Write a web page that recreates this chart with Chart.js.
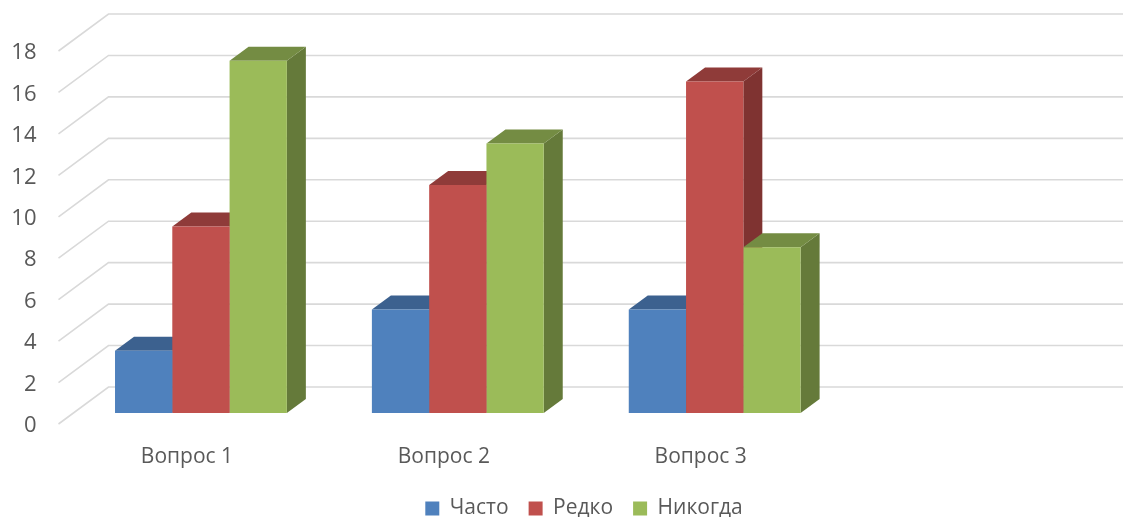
<!DOCTYPE html>
<html><head><meta charset="utf-8">
<style>html,body{margin:0;padding:0;background:#fff}#w{width:1123px;height:517px}</style>
<script src="https://cdn.jsdelivr.net/npm/chart.js@4"></script></head>
<body><div id="w"><canvas id="c"></canvas></div>
<script>
const categories = ["Вопрос 1", "Вопрос 2", "Вопрос 3", ""];
const seriesNames = ["Часто", "Редко", "Никогда"];
const chasto = [3, 5, 5, null];
const redko = [9, 11, 16, null];
const nikogda = [17, 13, 8, null];
const yTicksMax = 18, yTicksStep = 2;

const frontColors = ["#4F81BD", "#C0504D", "#9BBB59"];
const topColors = ["#3C618F", "#8F3B39", "#748C43"];
const sideColors = ["#34557D", "#7F3331", "#657A3A"];
const textColor = "#595959";
const fontFamily = "'Open Sans', sans-serif";
const BAR_DX = 14, BAR_DY = -11, DEPTH_X = 19, DEPTH_Y = -14, WALL_DX = 50, WALL_DY = -37;

const poly = (ctx, pts, fill) => {
  ctx.beginPath();
  pts.forEach((p, i) => i ? ctx.lineTo(p[0], p[1]) : ctx.moveTo(p[0], p[1]));
  ctx.closePath(); ctx.fillStyle = fill; ctx.fill();
};
const box3d = {
  id: "box3d",
  afterLayout(chart) {
    chart.legend.left += 41; chart.legend.right += 41;
    chart.legend.top -= 7; chart.legend.bottom -= 7;
    const y = chart.scales.y;
    if (!y._nudged) {
      const draw = y.drawLabels.bind(y);
      y.drawLabels = area => {
        chart.ctx.save(); chart.ctx.translate(0, 2); draw(area); chart.ctx.restore();
      };
      y._nudged = true;
    }
  },
  beforeDatasetsDraw(chart) {
    const { ctx, chartArea: a, scales: { y } } = chart;
    ctx.save();
    ctx.strokeStyle = "#D9D9D9"; ctx.lineWidth = 1.6;
    y.ticks.forEach(t => {
      const py = y.getPixelForValue(t.value);
      ctx.beginPath();
      ctx.moveTo(a.left, py);
      ctx.lineTo(a.left + WALL_DX, py + WALL_DY);
      ctx.lineTo(a.right + WALL_DX, py + WALL_DY);
      ctx.stroke();
    });
    ctx.restore();
    ctx.save();
    ctx.translate(BAR_DX, BAR_DY);
    chart.data.datasets.forEach((ds, di) => {
      chart.getDatasetMeta(di).data.forEach((b, i) => {
        if (ds.data[i] == null) return;
        const l = b.x - b.width / 2, r = b.x + b.width / 2;
        poly(ctx, [[r, b.y], [r + DEPTH_X, b.y + DEPTH_Y], [r + DEPTH_X, b.base + DEPTH_Y], [r, b.base]], sideColors[di]);
        poly(ctx, [[l, b.y], [l + DEPTH_X, b.y + DEPTH_Y], [r + DEPTH_X, b.y + DEPTH_Y], [r, b.y]], topColors[di]);
      });
    });
    ctx.restore();
    ctx.save();
    ctx.translate(BAR_DX, BAR_DY);
  },
  afterDatasetsDraw(chart) { chart.ctx.restore(); }
};

new Chart(document.getElementById("c"), {
  type: "bar",
  data: {
    labels: categories,
    datasets: [chasto, redko, nikogda].map((d, i) => ({
      label: seriesNames[i], data: d, backgroundColor: frontColors[i], borderWidth: 0,
      categoryPercentage: 0.669, barPercentage: 1
    }))
  },
  options: {
    responsive: true, maintainAspectRatio: false, animation: false,
    layout: { padding: { top: 51, right: 37, left: 0, bottom: -19 } },
    plugins: {
      tooltip: { enabled: false },
      legend: {
        position: "bottom",
        labels: { boxWidth: 14, boxHeight: 14, padding: 20, color: textColor, font: { family: fontFamily, size: 21 } }
      }
    },
    scales: {
      x: {
        grid: { display: false, drawTicks: false }, border: { display: false },
        ticks: { color: textColor, padding: 20, maxRotation: 0, font: { family: fontFamily, size: 21 } },
        afterFit(s) { s.height = 61; }
      },
      y: {
        min: 0, max: yTicksMax,
        grid: { display: false, drawTicks: false }, border: { display: false },
        ticks: { stepSize: yTicksStep, color: textColor, padding: 22, font: { family: fontFamily, size: 22 } },
        afterFit(s) { s.width = 58.5; }
      }
    }
  },
  plugins: [box3d]
});
</script></body></html>
